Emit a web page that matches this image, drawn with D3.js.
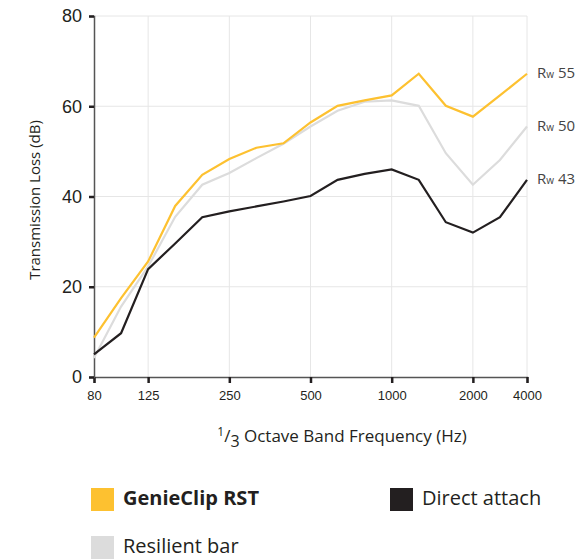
<!DOCTYPE html>
<html>
<head>
<meta charset="utf-8">
<script src="https://cdn.jsdelivr.net/npm/d3@7"></script>
<style>
  body { margin: 0; background: #fff; font-family: "Open Sans", sans-serif; }
  svg text { fill: #231f20; }
</style>
</head>
<body>
<div id="chartPlaceholder"></div>
<script>
// 1/3 octave bands plotted on the chart
const bands = ["80", "100", "125", "160", "200", "250", "315", "400", "500", "630", "800", "1000", "1250", "1600", "2000", "2500", "3150"];
const tickBands = ["80", "125", "250", "500", "1000", "2000", "3150"];
const tickLabels = ["80", "125", "250", "500", "1000", "2000", "4000"];

const genieClip = [8.7, 17.5, 25.6, 37.9, 44.8, 48.3, 50.8, 51.8, 56.4, 60.1, 61.3, 62.4, 67.2, 60.1, 57.7, 62.4, 67.2];
const resilientBar = [4.2, 15.6, 24.5, 35.5, 42.6, 45.2, 48.5, 51.7, 55.5, 59.0, 61.0, 61.3, 60.1, 49.6, 42.6, 48.1, 55.5];
const directAttach = [5.0, 9.7, 23.9, 29.6, 35.4, 36.7, 37.8, 38.9, 40.1, 43.7, 45.0, 46.0, 43.7, 34.3, 32.0, 35.4, 43.7];

const seriesNames = ["GenieClip RST", "Resilient bar", "Direct attach"];
const seriesColors = ["#fdc130", "#dcdcdc", "#231f20"];
const ratings = ["55", "50", "43"];

const yTicks = [0, 20, 40, 60, 80];

const margin = { top: 16, right: 52, bottom: 182, left: 94 },
  width = 579 - margin.left - margin.right,
  height = 559 - margin.top - margin.bottom;

const svg = d3
  .select("#chartPlaceholder")
  .append("svg")
  .attr("width", 579)
  .attr("height", 559)
  .append("g")
  .attr("transform", `translate(${margin.left}, ${margin.top})`);

const x = d3.scalePoint().domain(bands).range([0, width]);
const y = d3.scaleLinear().domain([0, 80]).range([height, 0]);

// grid
svg
  .append("g")
  .selectAll("line.h")
  .data(yTicks.slice(1))
  .join("line")
  .attr("x1", 0)
  .attr("x2", width)
  .attr("y1", (d) => y(d))
  .attr("y2", (d) => y(d))
  .style("stroke", "#e6e6e6")
  .style("stroke-width", 1);

svg
  .append("g")
  .selectAll("line.v")
  .data(tickBands.slice(1))
  .join("line")
  .attr("x1", (d) => x(d))
  .attr("x2", (d) => x(d))
  .attr("y1", 0)
  .attr("y2", height)
  .style("stroke", "#e6e6e6")
  .style("stroke-width", 1);

// axes
const xAxis = svg
  .append("g")
  .attr("transform", `translate(0, ${height})`)
  .call(
    d3
      .axisBottom(x)
      .tickValues(tickBands)
      .tickSize(6)
      .tickPadding(8)
      .tickFormat((d) => tickLabels[tickBands.indexOf(d)])
  );
xAxis.select(".domain").style("stroke", "#555").style("stroke-width", 1.5);
xAxis.selectAll(".tick line").style("stroke", "#231f20").style("stroke-width", 2.5);
xAxis.selectAll(".tick text").style("font-size", "13px").style("fill", "#231f20");

const yAxis = svg
  .append("g")
  .call(d3.axisLeft(y).tickValues(yTicks).tickSize(5).tickPadding(7));
yAxis.select(".domain").style("stroke", "#555").style("stroke-width", 1.5);
yAxis.selectAll(".tick line").style("stroke", "#231f20").style("stroke-width", 2.5);
yAxis.selectAll(".tick text").style("font-size", "18px").style("fill", "#231f20");

// axis titles
svg
  .append("text")
  .attr("transform", `translate(${36 - margin.left}, ${200 - margin.top}) rotate(-90)`)
  .attr("text-anchor", "middle")
  .attr("dominant-baseline", "middle")
  .style("font-size", "15px")
  .text("Transmission Loss (dB)");

const xTitle = svg
  .append("text")
  .attr("x", 342 - margin.left)
  .attr("y", 442 - margin.top)
  .attr("text-anchor", "middle")
  .style("font-size", "17px");
xTitle.append("tspan").attr("dy", -6).style("font-size", "12px").text("1");
xTitle.append("tspan").attr("dy", 6).text("/");
xTitle.append("tspan").attr("dy", 5).style("font-size", "16px").text("3");
xTitle.append("tspan").attr("dy", -5).text(" Octave Band Frequency (Hz)");

// lines
const allSeries = [genieClip, resilientBar, directAttach];
const line = d3
  .line()
  .x((d, i) => x(bands[i]))
  .y((d) => y(d));

[1, 2, 0].forEach((k) => {
  svg
    .append("path")
    .datum(allSeries[k])
    .attr("d", line)
    .style("fill", "none")
    .style("stroke", seriesColors[k])
    .style("stroke-width", 2.2)
    .style("stroke-linejoin", "miter");
});

// Rw ratings at the right end
allSeries.forEach((s, k) => {
  const t = svg
    .append("text")
    .attr("x", width + 10)
    .attr("y", y(s[s.length - 1]))
    .attr("dominant-baseline", "middle")
    .style("font-size", "15px")
    .style("fill", "#444");
  t.append("tspan").text("R");
  t.append("tspan").style("font-size", "10px").attr("dy", 1).text("w");
  t.append("tspan").attr("dy", -1).text(" " + ratings[k]);
});

// legend
const legendPos = [
  [91, 488],
  [91, 536],
  [390, 488],
];
const legend = d3
  .select("svg")
  .append("g")
  .selectAll("g")
  .data(seriesNames)
  .join("g")
  .attr("transform", (d, i) => `translate(${legendPos[i][0]}, ${legendPos[i][1]})`);

legend
  .append("rect")
  .attr("width", 23)
  .attr("height", 23)
  .style("fill", (d, i) => seriesColors[i]);

legend
  .append("text")
  .attr("x", 32)
  .attr("y", 17)
  .style("font-size", "20px")
  .style("font-weight", (d, i) => (i === 0 ? "bold" : "normal"))
  .text((d) => d);
</script>
</body>
</html>
